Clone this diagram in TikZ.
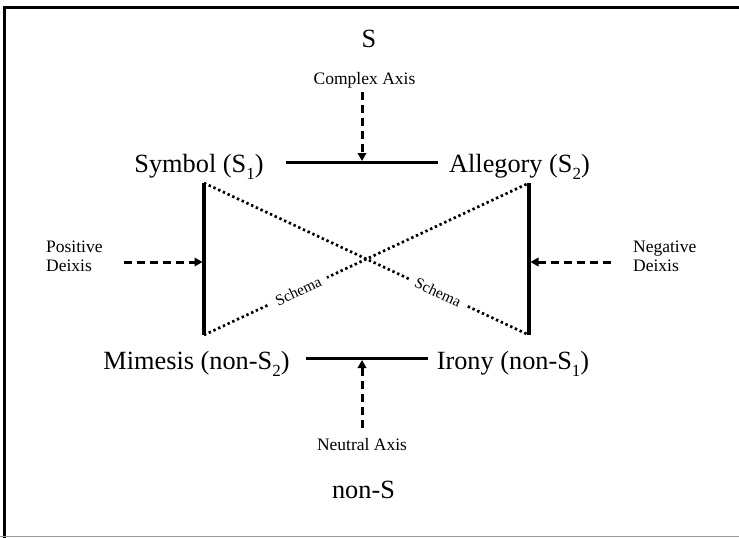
\documentclass[tikz,border=0pt]{standalone}
\usepackage{fontspec}
\setmainfont{Liberation Serif}
\usetikzlibrary{arrows.meta}

\newcommand{\bigtxt}{\fontsize{26.3}{30}\selectfont}
\newcommand{\smalltxt}{\fontsize{17.5}{20}\selectfont}
\newcommand{\tinytxt}{\fontsize{15.5}{17}\selectfont}
\newcommand{\sbs}[1]{\raisebox{-0.3em}{\fontsize{17}{17}\selectfont #1}}

\tikzset{
  term/.style={font=\bigtxt, anchor=base, inner sep=0pt},
  axislabel/.style={font=\smalltxt, anchor=base, inner sep=0pt},
  deixis/.style={font=\smalltxt, align=left, anchor=north west, inner sep=0pt},
  opposition/.style={line width=3pt},
  implication/.style={line width=3.6pt},
  schemaline/.style={line width=2.7pt, dash pattern=on 2.4pt off 2.8pt},
  schemalabel/.style={font=\tinytxt, sloped, fill=white, inner xsep=7pt, inner ysep=3pt},
  axisarrow/.style={line width=3pt, dash pattern=on 8pt off 5pt,
    -{Triangle[length=8pt,width=8.5pt]}},
}

\begin{document}
\begin{tikzpicture}[x=1pt,y=-1pt]
  \useasboundingbox (0,0) rectangle (739,538);

  % outer frame
  \draw[line width=3pt] (4.5,538) -- (4.5,7.5) -- (739,7.5);
  \draw[line width=1.2pt, black!40] (0,536.8) -- (739,536.8);

  % terms of the square
  \node[term] (S) at (369,47) {S};
  \node[term] (symbol) at (199,172) {Symbol (S\sbs{1})};
  \node[term] (allegory) at (519.5,172) {Allegory (S\sbs{2})};
  \node[term] (mimesis) at (196.5,369) {Mimesis (non-S\sbs{2})};
  \node[term] (irony) at (513,369) {Irony (non-S\sbs{1})};
  \node[term] (nonS) at (363.5,498) {non-S};

  % axis and deixis labels
  \node[axislabel] (complex) at (364.5,84) {Complex Axis};
  \node[axislabel] (neutral) at (362,450) {Neutral Axis};
  \node[deixis] (positive) at (46,240.5) {Positive\\[-0.6pt]Deixis};
  \node[deixis] (negative) at (633,240.5) {Negative\\[-0.6pt]Deixis};

  % corners of the square
  \coordinate (tl) at (204,183);
  \coordinate (bl) at (204,335);
  \coordinate (tr) at (529,183);
  \coordinate (br) at (529,335);

  % contrary and sub-contrary relations
  \coordinate (topL) at (286,162.5);
  \coordinate (topR) at (438,162.5);
  \coordinate (botL) at (306,358.5);
  \coordinate (botR) at (428,358.5);
  \draw[opposition] (topL) -- (topR);
  \draw[opposition] (botL) -- (botR);

  % deixis bars
  \draw[implication] (tl) -- (bl);
  \draw[implication] (tr) -- (br);

  % contradictory schemas
  \draw[schemaline] (bl) -- node[schemalabel, pos=0.29] {Schema} (tr);
  \draw[schemaline] (tl) -- node[schemalabel, pos=0.72] {Schema} (br);

  % axis arrows
  \coordinate (cTail) at (362,92);
  \coordinate (cHead) at (362,161);
  \coordinate (nTail) at (362,428);
  \coordinate (nHead) at (362,360);
  \coordinate (pTail) at (124,262);
  \coordinate (pHead) at (202.5,262);
  \coordinate (gTail) at (611,262);
  \coordinate (gHead) at (530.5,262);
  \draw[axisarrow] (cTail) -- (cHead);
  \draw[axisarrow] (nTail) -- (nHead);
  \draw[axisarrow] (pTail) -- (pHead);
  \draw[axisarrow] (gTail) -- (gHead);
\end{tikzpicture}
\end{document}
